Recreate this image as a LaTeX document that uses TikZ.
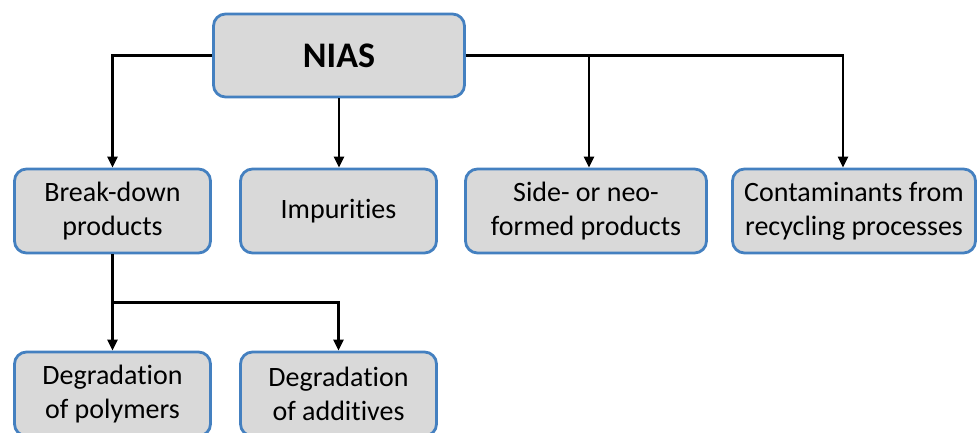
\documentclass[tikz,border=0pt]{standalone}
\usepackage{fontspec}
\setmainfont[Ligatures=NoCommon]{Carlito}
\usetikzlibrary{arrows.meta, positioning, calc}
\definecolor{boxblue}{RGB}{68,128,192}
\definecolor{boxgray}{RGB}{217,217,217}

\begin{document}
\begin{tikzpicture}[x=1pt, y=-1pt, >={Triangle[length=11pt, width=10pt]},
  box/.style={draw=boxblue, line width=2.8pt, fill=boxgray, rounded corners=12pt,
    minimum width=196pt, minimum height=84pt, align=center, inner sep=0pt,
    font=\fontsize{28}{34}\selectfont},
  link/.style={->, line width=2.2pt}]
  \path[use as bounding box, clip] (0,0) rectangle (979,432);

  % top level
  \node[box, minimum width=251pt, minimum height=83pt,
    font=\fontsize{36}{40}\selectfont\bfseries] (nias) at (339,55.5) {NIAS};

  % second row
  \node[box] (breakdown) at (112.5,211) {Break-down\\products};
  \node[box] (impur) at (338.5,211) {Impurities};
  \node[box, minimum width=241pt] (side) at (586,211) {Side- or neo-\\formed products};
  \node[box, minimum width=243pt] (contam) at (854,211) {Contaminants from\\recycling processes};

  % third row
  \node[box] (degpoly) at (112.5,394) {Degradation\\of polymers};
  \node[box] (degadd) at (338.5,394) {Degradation\\of additives};

  \draw[link] (nias.west) -| (breakdown.north);
  \draw[link] (nias.south) -- (nias.south |- impur.north);
  \draw[link] (nias.east) -| ([xshift=-11pt]contam.north);
  \draw[link] ([xshift=3pt]side.north |- nias.east) -- ([xshift=3pt]side.north);

  \coordinate (split) at ($(breakdown.south)!0.5!(degpoly.north)$);
  \draw[link] (breakdown.south) -- (degpoly.north);
  \draw[link] (split) -| (degadd.north);
\end{tikzpicture}
\end{document}
